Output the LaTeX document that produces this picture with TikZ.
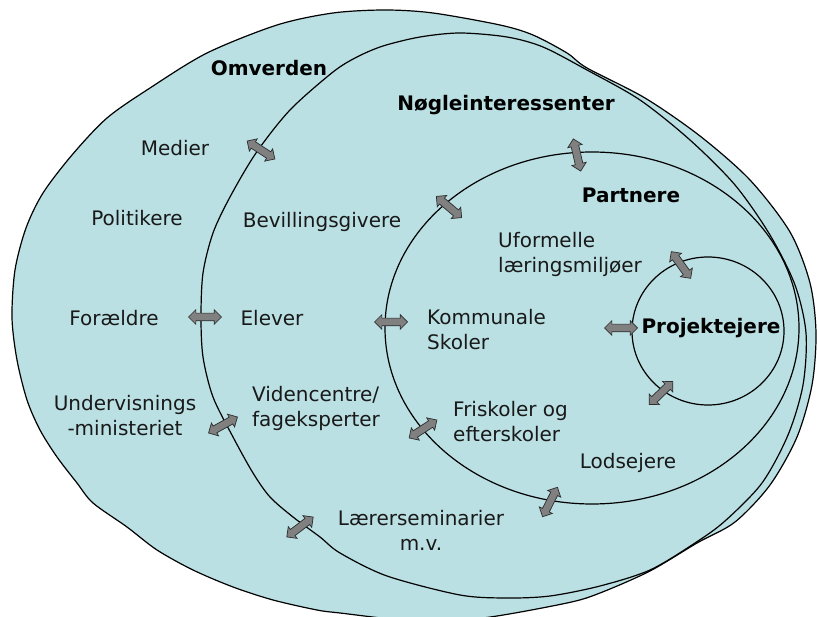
\documentclass[tikz,border=0pt]{standalone}
\usepackage{fontspec}
\setmainfont{DejaVu Sans}
\usetikzlibrary{shapes.arrows}
\definecolor{ringfill}{RGB}{186,224,227}
\definecolor{arrfill}{RGB}{128,128,128}
\definecolor{arredge}{RGB}{45,45,45}
\newcommand{\shaftbox}{\rule{0pt}{7pt}}
\tikzset{
  ring/.style={draw=black, fill=ringfill, line width=1.2pt, line join=round},
  dbl/.style={double arrow, draw=arredge, fill=arrfill, line width=0.7pt,
    minimum height=33pt, double arrow head extend=3.5pt,
    inner sep=0pt, double arrow tip angle=90},
  lbl/.style={font=\fontsize{20}{25}\selectfont, inner sep=0pt, text=black!90},
  bld/.style={font=\fontsize{20}{25}\selectfont\bfseries, inner sep=0pt},
}
\begin{document}
\begin{tikzpicture}[x=1pt,y=-1pt]
\useasboundingbox (0,0) rectangle (817,617);
\clip (0,0) rectangle (817,617);
% outer: Omverden
\draw[ring] plot[smooth cycle] coordinates {
(12,318) (15,270) (26,228) (43,193) (72,155) (107,118) (150,88) (207,53)
(277,25) (333,13) (385,10) (433,13) (500,25) (533,35) (567,53) (587,68)
(645,98) (700,136) (750,180) (790,232) (810,283) (816,333) (812,385)
(797,437) (770,485) (735,522) (697,543) (650,571) (600,593) (567,603)
(483,618) (415,621) (340,613) (317,610) (273,600) (233,587) (193,570)
(157,550) (127,527) (93,503) (77,483) (57,457) (40,430) (27,400) (17,360)};
% Noegleinteressenter
\draw[ring] plot[smooth cycle] coordinates {
(201,317) (203,273) (213,233) (230,197) (256,153) (290,110) (333,72)
(357,57) (383,46) (420,37) (460,33) (507,37) (543,47) (587,70) (640,100)
(690,140) (735,185) (770,235) (795,285) (806,333) (803,385) (788,435)
(762,483) (725,521) (695,543) (650,570) (600,586) (550,596) (507,598)
(460,595) (387,576) (340,553) (320,537) (293,517) (270,497) (253,473)
(233,437) (213,397) (203,357)};
% Partnere
\draw[ring] (592,328) ellipse [x radius=207, y radius=176];
% Projektejere
\draw[ring] (708,331) ellipse [x radius=76, y radius=74];

% arrows
\node[dbl, rotate=-33] (a1) at (261,150) {\shaftbox};
\node[dbl] (a2) at (205,317) {\shaftbox};
\node[dbl, rotate=29] (a3) at (223,425) {\shaftbox};
\node[dbl, rotate=37] (a4) at (300,527) {\shaftbox};
\node[dbl, rotate=-40] (a5) at (449,207) {\shaftbox};
\node[dbl] (a6) at (391,322) {\shaftbox};
\node[dbl, rotate=33] (a7) at (423,429) {\shaftbox};
\node[dbl, rotate=-77] (a8) at (577,155) {\shaftbox};
\node[dbl, rotate=63] (a9) at (550,502) {\shaftbox};
\node[dbl, rotate=-54] (a10) at (681,265) {\shaftbox};
\node[dbl] (a11) at (621,328) {\shaftbox};
\node[dbl, rotate=44] (a12) at (661,393) {\shaftbox};

% labels
\node[bld] (omv) at (269,68) {Omverden};
\node[lbl] (med) at (175,148) {Medier};
\node[lbl] (pol) at (137,218) {Politikere};
\node[lbl] (for) at (114,318) {Forældre};
\node[lbl, align=center] (und) at (125,416) {Undervisnings\\-ministeriet};
\node[bld] (noe) at (506,105) {Nøgleinteressenter};
\node[lbl] (bev) at (322,222) {Bevillingsgivere};
\node[lbl] (ele) at (272,318) {Elever};
\node[lbl, align=left] (vid) at (316,408) {Videncentre/\\fageksperter};
\node[lbl, align=center] (lae) at (421,530) {Lærerseminarier\\m.v.};
\node[bld] (par) at (631,195) {Partnere};
\node[lbl, align=left, anchor=west] (ufo) at (498,254) {Uformelle\\læringsmiljøer};
\node[lbl, align=left, anchor=west] (kom) at (427,330) {Kommunale\\Skoler};
\node[lbl, align=left, anchor=west] (fri) at (453,422) {Friskoler og\\efterskoler};
\node[lbl] (lod) at (628,463) {Lodsejere};
\node[bld] (pro) at (711,328) {Projektejere};
\end{tikzpicture}
\end{document}
